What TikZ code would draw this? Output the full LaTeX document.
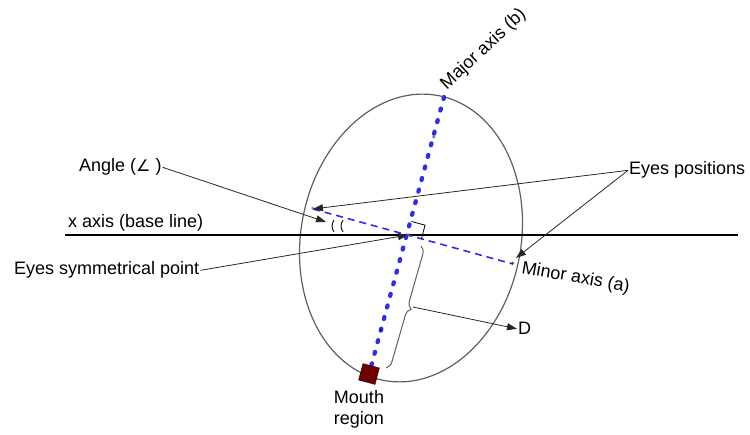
\documentclass[tikz,border=0pt]{standalone}
\usepackage{fontspec}
\setmainfont{Liberation Sans}
\newfontfamily\symfont{DejaVu Sans}
\usepackage{xcolor}
\usetikzlibrary{arrows.meta, positioning, calc, decorations.pathreplacing}
\definecolor{axisblue}{RGB}{45,45,235}
\definecolor{mouthred}{RGB}{115,0,0}
\definecolor{rimgray}{RGB}{95,95,95}
\definecolor{centerpink}{RGB}{230,90,150}

\begin{document}
\begin{tikzpicture}[x=1pt, y=-1pt, font=\fontsize{18}{21}\selectfont]
  \tikzstyle{lbl} = [inner sep=1pt]
  \tikzstyle{pointer} = [-{Triangle[length=10pt, width=7pt]}, draw=black!85, line width=0.8pt]
  \tikzstyle{star} = [inner sep=0pt, font=\footnotesize]
  \useasboundingbox (0,0) rectangle (750,435);

  % face outline and base line
  \draw[rimgray, line width=1.2pt, rotate around={-11:(411,238)}] (411,238) ellipse [x radius=110, y radius=145];
  \coordinate (XL) at (65,235);
  \coordinate (XR) at (738,235);
  \draw[line width=2pt] (XL) -- (XR);

  % key points
  \coordinate (C)  at (408,235);
  \coordinate (T)  at (444,97);
  \coordinate (M)  at (369,374);
  \coordinate (LE) at (313,209);
  \coordinate (RE) at (513,264);

  % axes
  \draw[axisblue, line width=1.6pt, dash pattern=on 7pt off 5pt] (LE) -- (RE);
  \draw[axisblue, line width=4.3pt, line cap=round, dash pattern=on 2pt off 10pt] (T) -- (M);
  \node[star, text=black] (s1) at (434,138) {$\ast$};
  \node[star, text=black] (s2) at (381,331) {$\ast$};
  \node[star, text=axisblue] (s3) at (LE) {$\ast$};
  \node[star, text=black] (s4) at (RE) {$\ast$};
  \node[star, text=centerpink, font=\normalsize] (s5) at (C) {$\ast$};

  % right angle and angle marks
  \draw[black, line width=0.8pt] ($(C)!14pt!(T)$) -- ($($(C)!14pt!(T)$)+($(C)!14pt!(RE)$)-(C)$) -- ($(C)!14pt!(RE)$);
  \draw[line width=0.9pt] (341,226) ++(140:9) arc[start angle=140, end angle=220, radius=9];
  \draw[line width=0.9pt] (350,226) ++(140:9) arc[start angle=140, end angle=220, radius=9];

  % mouth
  \node[draw=black, fill=mouthred, minimum size=17pt, inner sep=0pt, rotate=-15] (mouth) at (M) {};
  \node[lbl, align=center, anchor=north] (mlbl) at (359,389) {Mouth\\region};

  % distance brace
  \draw[rimgray, line width=1pt, decorate, decoration={brace, amplitude=8pt}] (421,246) -- (386,368);
  \coordinate (Dtip) at (413,307);
  \node[lbl, anchor=base west] (D) at (517,335) {D};
  \draw[pointer] (Dtip) -- (D.west);

  % labels
  \node[lbl, anchor=base west] (xax) at (67,228) {x axis (base line)};
  \node[lbl, anchor=base west] (ang) at (78,172) {Angle ({\symfont\fontsize{16}{19}\selectfont ∠} )};
  \node[lbl, anchor=base west] (sym) at (13,275) {Eyes symmetrical point};
  \node[lbl, anchor=base west] (eyes) at (628,175) {Eyes positions};
  \node[lbl, anchor=base west, rotate=43] (maj) at (446,91) {Major axis (b)};
  \node[lbl, anchor=base west, rotate=-10] (min) at (520,273) {Minor axis (a)};

  % pointers
  \coordinate (AngTip) at (326,222);
  \coordinate (RETip) at (516,258);
  \draw[pointer] (ang.east) -- (AngTip);
  \draw[pointer] (sym.east) -- (C);
  \draw[pointer] (eyes.west) -- (LE);
  \draw[pointer] (eyes.west) -- (RETip);
\end{tikzpicture}
\end{document}
